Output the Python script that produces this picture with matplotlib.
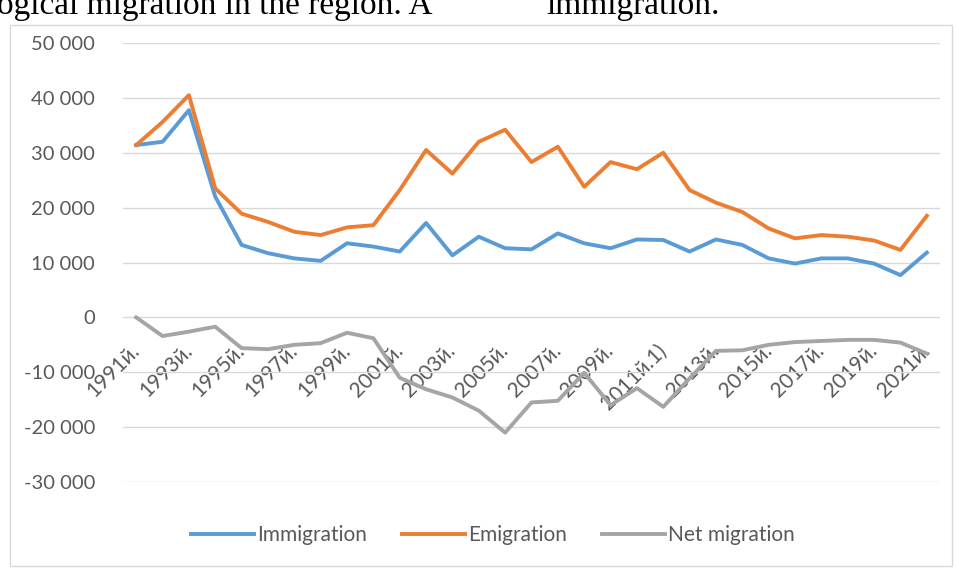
import matplotlib
matplotlib.use("Agg")
import matplotlib.pyplot as plt
from matplotlib.patches import Rectangle
from matplotlib.ticker import FuncFormatter, MultipleLocator

plt.rcParams["font.family"] = ["Lato", "Open Sans", "DejaVu Sans"]

# --- data ---
years = list(range(1991, 2022))
year_labels = [f"{y}й." for y in years]
year_labels[years.index(2011)] = "2011й.1)"

immigration = [31400, 32000, 37750, 22000, 13200, 11700, 10750, 10300, 13500, 12900,
               12000, 17200, 11300, 14700, 12600, 12400, 15300, 13500, 12600, 14200,
               14100, 12000, 14200, 13200, 10750, 9800, 10750, 10750, 9800, 7700, 11800]
emigration = [31400, 35600, 40500, 23500, 18900, 17400, 15600, 15000, 16400, 16800,
              23200, 30500, 26200, 32000, 34200, 28300, 31100, 23800, 28300, 27000,
              30000, 23200, 20900, 19200, 16200, 14400, 15000, 14700, 14000, 12300, 18500]
net_migration = [0, -3400, -2600, -1700, -5600, -5800, -5000, -4700, -2800, -3800,
                 -11000, -13100, -14600, -17000, -21000, -15500, -15200, -10100, -16000, -12900,
                 -16300, -11100, -6100, -6000, -5000, -4500, -4300, -4100, -4100, -4600, -6600]

series = [
    ("Immigration", immigration, "#5B9BD5"),
    ("Emigration", emigration, "#ED7D31"),
    ("Net migration", net_migration, "#A5A5A5"),
]

W, H = 959, 568
fig = plt.figure(figsize=(W / 100, H / 100), dpi=100)
fig.patch.set_facecolor("white")

# chart frame (Excel chart area border)
fig.patches.append(Rectangle((10 / W, 1 - 566 / H), (952 - 10) / W, (566 - 25) / H,
                             transform=fig.transFigure, fill=False,
                             edgecolor="#D9D9D9", linewidth=1.0))

# body text line above the chart, cut off by the crop as in the source page
fig.text(-3 / W, 1 - 14 / H, "ogical migration in the region. A", fontsize=24,
         family="Liberation Serif", va="baseline", ha="left", color="black")
fig.text(546 / W, 1 - 14 / H, "immigration.", fontsize=24,
         family="Liberation Serif", va="baseline", ha="left", color="black")

ax = fig.add_axes([123 / W, 1 - 482 / H, (940 - 123) / W, (482 - 43) / H])
x = list(range(len(years)))
for name, vals, color in series:
    ax.plot(x, vals, color=color, linewidth=2.8, label=name, solid_joinstyle="round")

ax.set_xlim(-0.5, len(years) - 0.5)
ax.set_ylim(-30000, 50000)
ax.yaxis.set_major_locator(MultipleLocator(10000))
ax.yaxis.set_major_formatter(FuncFormatter(lambda v, _: f"{int(v):,}".replace(",", " ")))
ax.grid(axis="y", color="#D9D9D9", linewidth=1.0)
ax.set_axisbelow(True)

for side in ["top", "right", "left"]:
    ax.spines[side].set_visible(False)
# category axis crosses at zero, labels hang below the 0 gridline
ax.spines["bottom"].set_position(("data", 0))
ax.spines["bottom"].set_visible(False)

ax.set_xticks(x[::2])
ax.set_xticklabels(year_labels[::2])
ax.tick_params(axis="x", length=0, pad=22, labelsize=15, labelcolor="#595959")
ax.tick_params(axis="y", length=0, pad=20, labelsize=14.5, labelcolor="#595959")
plt.setp(ax.get_xticklabels(), rotation=45, ha="right", va="center", rotation_mode="anchor")

fig.legend(loc="center", bbox_to_anchor=(493 / W, 1 - 535 / H), ncol=3, frameon=False,
           fontsize=15, handlelength=3.0, handletextpad=0.15, columnspacing=1.7,
           labelcolor="#595959")

fig.savefig("out.png", dpi=100)
